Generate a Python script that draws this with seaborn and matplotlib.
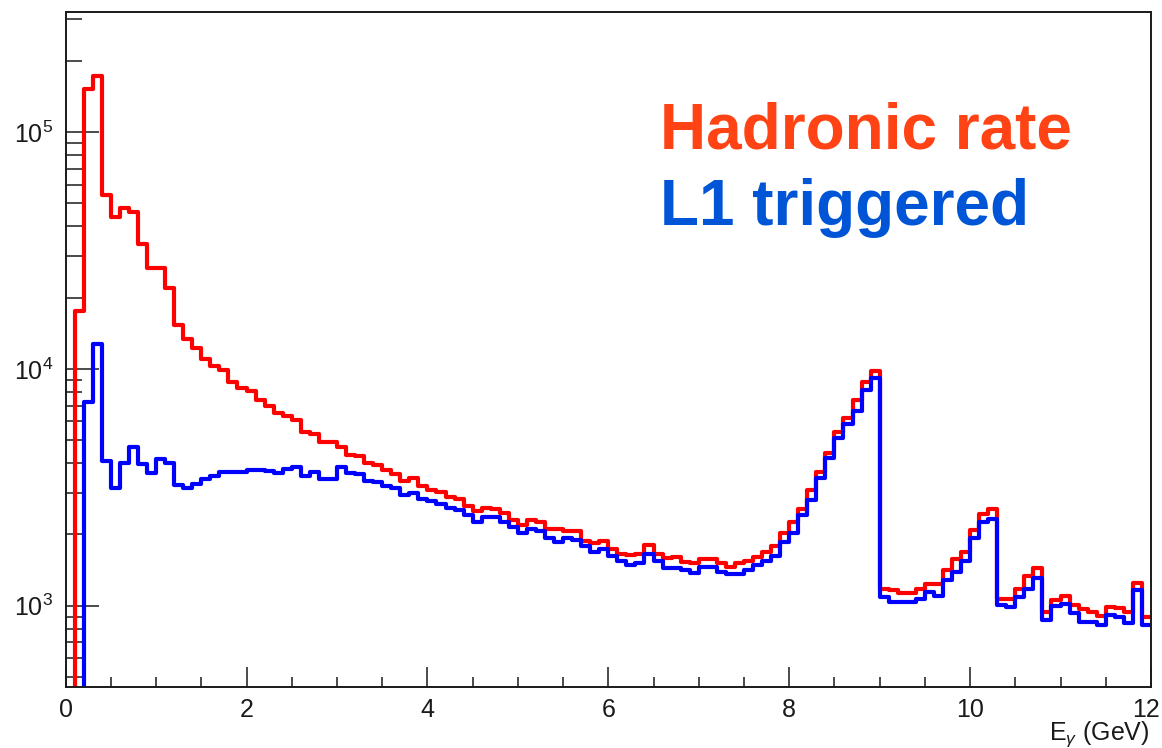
import numpy as np
import pandas as pd
import matplotlib
matplotlib.use("Agg")
import matplotlib.pyplot as plt
import matplotlib.ticker as mticker
import matplotlib.transforms as mtransforms
import seaborn as sns

# 0.1 GeV bins over 0-12 GeV
bin_edges = np.linspace(0.0, 12.0, 121)
bin_centers = 0.5 * (bin_edges[:-1] + bin_edges[1:])

hadronic_rate = [
    0, 17600, 152000, 173000, 54500, 43900, 47800, 46000, 33600, 26700,
    26700, 21900, 15300, 13400, 12300, 11000, 10300, 9900, 8800, 8300,
    8100, 7400, 6950, 6530, 6350, 6090, 5440, 5320, 4890, 4890,
    4660, 4350, 4280, 4000, 3910, 3730, 3610, 3360, 3450, 3200,
    3090, 3010, 2890, 2830, 2630, 2510, 2580, 2570, 2465, 2300,
    2200, 2300, 2250, 2100, 2100, 2070, 2070, 1880, 1840, 1870,
    1740, 1660, 1640, 1650, 1800, 1650, 1590, 1610, 1530, 1510,
    1570, 1570, 1510, 1450, 1510, 1550, 1610, 1690, 1780, 2020,
    2250, 2550, 3080, 3680, 4430, 5400, 6190, 7400, 8840, 9840,
    1180, 1160, 1130, 1130, 1180, 1230, 1230, 1420, 1570, 1690,
    2090, 2450, 2560, 1070, 1070, 1180, 1330, 1440, 943, 1060,
    1100, 1010, 968, 943, 907, 990, 975, 943, 1250, 899,
]

l1_triggered = [
    0, 0, 7250, 12700, 4100, 3150, 4020, 4690, 3980, 3620,
    4180, 4020, 3250, 3140, 3270, 3420, 3520, 3660, 3660, 3660,
    3740, 3740, 3700, 3650, 3780, 3860, 3520, 3670, 3440, 3440,
    3840, 3620, 3600, 3350, 3330, 3200, 3130, 2930, 3000, 2810,
    2760, 2700, 2580, 2540, 2420, 2250, 2360, 2360, 2250, 2160,
    2020, 2110, 2060, 1930, 1860, 1930, 1900, 1780, 1690, 1730,
    1620, 1545, 1490, 1520, 1650, 1550, 1440, 1440, 1420, 1380,
    1450, 1450, 1390, 1360, 1360, 1420, 1490, 1550, 1620, 1850,
    2020, 2420, 2800, 3450, 4200, 5090, 5860, 6650, 8150, 9140,
    1090, 1040, 1040, 1040, 1070, 1140, 1100, 1290, 1390, 1550,
    1930, 2260, 2320, 1010, 990, 1090, 1180, 1310, 870, 1000,
    1020, 929, 856, 856, 829, 914, 894, 848, 1160, 829,
]

series_labels = ["Hadronic rate", "L1 triggered"]
line_colors = ["#ff0000", "#0000ff"]
text_colors = ["#ff4314", "#0055d6"]
x_tick_values = [0, 2, 4, 6, 8, 10, 12]

sns.set_theme(style="white")
plt.rcParams["font.family"] = ["Liberation Sans", "DejaVu Sans"]
plt.rcParams["mathtext.fontset"] = "custom"
plt.rcParams["mathtext.rm"] = "Liberation Sans"
plt.rcParams["mathtext.it"] = "Liberation Sans:italic"
plt.rcParams["mathtext.bf"] = "Liberation Sans:bold"

fig = plt.figure(figsize=(11.62, 7.48), dpi=100)
ax = fig.add_axes([0.0565, 0.0820, 0.934, 0.9016])

ymin, ymax = 455, 3.21e5

for values, color in zip([hadronic_rate, l1_triggered], line_colors):
    df = pd.DataFrame({"E": bin_centers, "count": values})
    sns.histplot(
        data=df, x="E", weights="count", bins=bin_edges.tolist(),
        element="step", fill=False, color=color, linewidth=3.0, ax=ax,
    )

ax.set_yscale("log")
ax.set_xlim(0, 12)
ax.set_ylim(ymin, ymax)
ax.set_xlabel("")
ax.set_ylabel("")

ax.xaxis.set_major_locator(mticker.FixedLocator(x_tick_values))
ax.xaxis.set_minor_locator(mticker.MultipleLocator(0.5))
ax.yaxis.set_major_locator(mticker.LogLocator(base=10, numticks=10))
ax.yaxis.set_minor_locator(mticker.LogLocator(base=10, subs=np.arange(2, 10), numticks=20))
ax.yaxis.set_minor_formatter(mticker.NullFormatter())

ax.tick_params(axis="x", which="major", direction="in", length=14.5, width=1.1,
               labelsize=18, pad=8, colors="#1a1a1a", bottom=True, top=False)
ax.tick_params(axis="x", which="minor", direction="in", length=7.2, width=1.1,
               bottom=True, top=False, color="#1a1a1a")
ax.tick_params(axis="y", which="major", direction="in", length=24, width=1.1,
               labelsize=18, pad=9, colors="#1a1a1a", left=True, right=False)
ax.tick_params(axis="y", which="minor", direction="in", length=11.5, width=1.1,
               left=True, right=False, color="#1a1a1a")

# keep the last x tick label inside the canvas, flush with the frame edge
fig.canvas.draw()
last_label = ax.get_xticklabels()[-1]
last_label.set_horizontalalignment("right")
last_label.set_transform(last_label.get_transform()
                         + mtransforms.ScaledTranslation(0.085, 0, fig.dpi_scale_trans))

for spine in ax.spines.values():
    spine.set_visible(True)
    spine.set_color("#1a1a1a")
    spine.set_linewidth(1.4)

fig.text(0.9897, 0.0107, r"E$_{\gamma}$ (GeV)", ha="right", va="baseline",
         fontsize=18, color="#1a1a1a")

fig.text(0.568, 0.8017, series_labels[0], ha="left", va="baseline",
         fontsize=46, fontweight="bold", color=text_colors[0])
fig.text(0.568, 0.699, series_labels[1], ha="left", va="baseline",
         fontsize=46, fontweight="bold", color=text_colors[1])

fig.savefig("out.png", dpi=100, facecolor="white")
